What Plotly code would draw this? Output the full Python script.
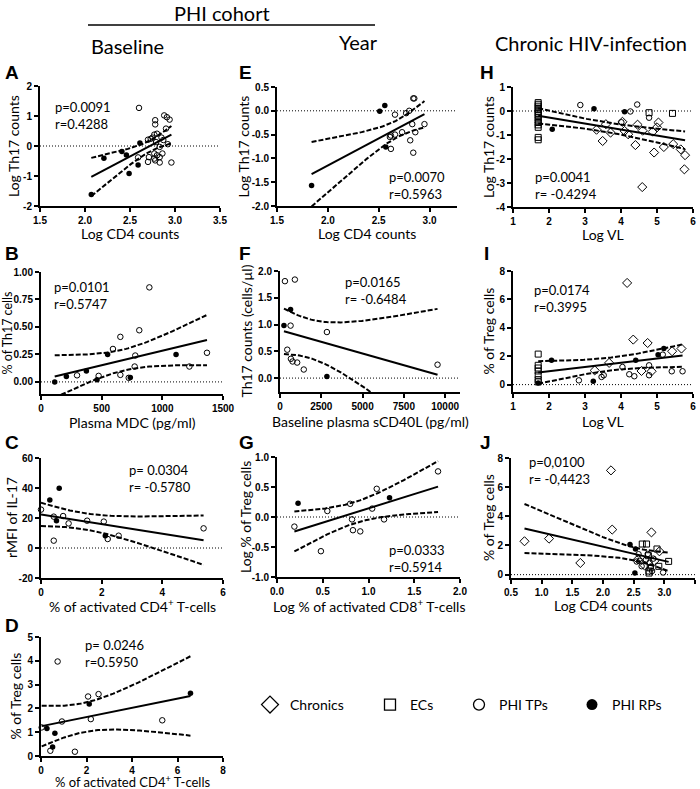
import numpy as np
import plotly.graph_objects as go

W, H = 700, 789

# ---------------- data ----------------
# Panel A: Log CD4 counts vs Log Th17 counts (baseline)
A_RP_X = [2.07, 2.21, 2.41, 2.46, 2.49, 2.59, 2.61]
A_RP_Y = [-1.62, -0.41, -0.18, -0.30, -0.92, -0.63, 0.10]
A_TP_X = [2.59, 2.60, 2.70, 2.70, 2.71, 2.73, 2.75, 2.77, 2.77, 2.77, 2.78, 2.78, 2.78, 2.79,
          2.80, 2.80, 2.83, 2.83, 2.83, 2.85, 2.86, 2.87, 2.88, 2.90, 2.91, 2.92, 2.94, 2.96]
A_TP_Y = [-0.38, 1.27, 0.21, -0.53, -0.37, 0.24, 0.28, 0.38, -0.25, -0.42, 0.86, 0.72, -0.48, 0.13,
          0.41, -0.31, -0.03, -0.37, -0.55, 0.28, -0.25, 0.20, 1.02, 0.58, 0.96, 0.06, 0.88, -0.55]

# Panel E: year
E_RP_X = [1.84, 2.51, 2.56, 2.57]
E_RP_Y = [-1.57, -0.01, 0.11, -0.76]
E_TP_X = [2.61, 2.62, 2.62, 2.66, 2.73, 2.77, 2.80, 2.81, 2.83, 2.84, 2.84, 2.85, 2.86, 2.95, 2.66]
E_TP_Y = [-0.55, -0.80, -0.52, -0.08, -0.45, -0.05, 0.00, -0.62, -0.28, -0.88, 0.26, 0.26, -0.45, -0.28, -0.50]

# Panel H: chronic, Log VL vs Log Th17
H_EC_X = [1.7, 1.7, 1.7, 1.7, 1.7, 1.7, 1.7, 1.7, 1.7, 1.7, 1.7, 1.7, 1.7, 1.7, 1.7, 4.78, 5.43]
H_EC_Y = [0.35, 0.28, 0.20, 0.12, 0.05, -0.03, -0.10, -0.18, -0.28, -0.38, -0.48, -0.58, -0.68,
          -1.10, -1.20, -0.07, -0.10]
H_RP_X = [2.09, 3.25, 4.10]
H_RP_Y = [-0.76, 0.09, -0.03]
H_TP_X = [2.87, 4.01, 4.26, 4.45, 4.78]
H_TP_Y = [0.25, -0.47, -0.02, 0.27, -0.28]
H_CH_X = [3.32, 3.58, 3.71, 3.49, 4.04, 4.10, 4.20, 4.40, 4.46, 4.60, 4.59, 4.88, 4.92, 5.00,
          5.04, 5.19, 5.45, 5.66, 5.78, 5.76]
H_CH_Y = [-0.78, -0.55, -0.90, -1.25, -0.45, -0.83, -0.97, -1.42, -0.57, -0.82, -3.17, -0.86,
          -1.73, -0.68, -0.48, -1.50, -1.38, -1.60, -1.84, -2.43]

# Panel B: plasma MDC vs % Th17
B_RP_X = [113, 209, 374, 462, 549, 736, 1113]
B_RP_Y = [0.00, 0.05, 0.10, 0.02, 0.25, 0.04, 0.25]
B_TP_X = [297, 475, 593, 654, 654, 723, 772, 777, 810, 893, 1223, 1368]
B_TP_Y = [0.06, 0.055, 0.30, 0.41, 0.064, 0.037, 0.14, 0.24, 0.47, 0.86, 0.14, 0.265]

# Panel F: sCD40L vs Th17 counts
F_RP_X = [240, 640, 2840]
F_RP_Y = [0.98, 1.28, 0.03]
F_TP_X = [300, 900, 640, 2840, 440, 660, 760, 1040, 1440, 9540]
F_TP_Y = [1.81, 1.84, 0.98, 0.86, 0.53, 0.36, 0.31, 0.29, 0.16, 0.25]

# Panel I: Log VL vs % Treg
I_EC_X = [1.7, 1.7, 1.7, 1.7, 1.7, 1.7, 1.7]
I_EC_Y = [2.15, 1.36, 1.17, 0.96, 0.66, 0.35, 0.19]
I_RP_X = [1.70, 2.07, 3.23, 4.41, 5.03, 5.19]
I_RP_Y = [0.12, 1.71, 0.23, 1.71, 2.11, 2.54]
I_TP_X = [2.83, 3.46, 3.52, 4.04, 4.23, 4.37, 4.78, 4.78, 5.16, 5.41, 5.71]
I_TP_Y = [0.30, 0.54, 0.66, 1.24, 0.73, 0.59, 0.66, 1.36, 2.11, 0.94, 0.94]
I_CH_X = [3.27, 3.67, 4.17, 4.34, 4.57, 4.74, 4.85, 5.42, 5.68]
I_CH_Y = [1.00, 1.53, 7.16, 3.17, 0.96, 2.93, 0.94, 2.35, 2.54]

# Panel C: % activated CD4 vs rMFI IL-17
C_RP_X = [0.29, 0.60, 0.51, 2.12]
C_RP_Y = [32.0, 39.8, 18.2, 8.2]
C_TP_X = [0.00, 0.42, 0.73, 0.91, 0.42, 1.52, 2.07, 2.20, 2.56, 5.36]
C_TP_Y = [25.6, 20.9, 21.3, 16.4, 4.9, 18.2, 17.6, 6.0, 8.2, 13.1]

# Panel G: Log % activated CD8 vs Log % Treg
G_RP_X = [0.23, 1.23]
G_RP_Y = [0.23, 0.32]
G_TP_X = [0.19, 0.55, 0.48, 0.80, 0.82, 0.83, 0.91, 1.04, 1.09, 1.17, 1.76]
G_TP_Y = [-0.16, 0.10, -0.57, 0.22, -0.04, -0.22, -0.24, 0.14, 0.47, -0.04, 0.76]

# Panel J: Log CD4 counts vs % Treg (chronic)
J_CH_X = [0.72, 1.12, 1.63, 2.13, 2.15, 2.79, 2.57, 2.84, 2.68, 2.92]
J_CH_Y = [2.29, 2.47, 0.80, 7.15, 3.09, 2.90, 1.05, 0.95, 0.62, 1.60]
J_RP_X = [2.44, 2.52, 2.53]
J_RP_Y = [2.06, 0.11, 1.76]
J_EC_X = [2.64, 2.71, 2.88, 2.74, 2.91, 3.07, 2.77, 2.75, 2.75]
J_EC_Y = [2.10, 2.10, 1.76, 1.30, 0.57, 0.91, 0.46, 0.11, 0.25]
J_TP_X = [2.58, 2.60, 2.63, 2.70, 2.73, 2.76, 2.78, 2.80, 2.98, 2.82, 2.55]
J_TP_Y = [1.40, 0.95, 0.58, 1.02, 1.42, 0.82, 0.55, 0.25, 0.15, 1.10, 0.90]

# Panel D: % activated CD4 vs % Treg
D_RP_X = [0.26, 0.61, 0.51, 2.12, 6.57]
D_RP_Y = [1.16, 0.96, 0.38, 2.19, 2.64]
D_TP_X = [0.03, 0.73, 0.92, 0.41, 1.49, 2.07, 2.53, 2.19, 5.33]
D_TP_Y = [1.20, 3.97, 1.45, 0.22, 0.18, 2.50, 2.60, 1.55, 1.50]

# ---------------- ticks / labels ----------------
A_XT = [1.5, 2.0, 2.5, 3.0, 3.5]; A_XL = ["1.5", "2.0", "2.5", "3.0", "3.5"]
A_YT = [-2, -1, 0, 1, 2]; A_YL = ["-2", "-1", "0", "1", "2"]
E_XT = [1.5, 2.0, 2.5, 3.0]; E_XL = ["1.5", "2.0", "2.5", "3.0"]
E_YT = [-2.0, -1.5, -1.0, -0.5, 0.0, 0.5]; E_YL = ["-2.0", "-1.5", "-1.0", "-0.5", "0.0", "0.5"]
H_XT = [1, 2, 3, 4, 5, 6]; H_XL = ["1", "2", "3", "4", "5", "6"]
H_YT = [-4, -3, -2, -1, 0, 1]; H_YL = ["-4", "-3", "-2", "-1", "0", "1"]
B_XT = [0, 500, 1000, 1500]; B_XL = ["0", "500", "1000", "1500"]
B_YT = [0, 0.25, 0.5, 0.75, 1.0]; B_YL = ["0.00", "0.25", "0.50", "0.75", "1.00"]
F_XT = [0, 2500, 5000, 7500, 10000]; F_XL = ["0", "2500", "5000", "7500", "10000"]
F_YT = [0, 0.5, 1.0, 1.5, 2.0]; F_YL = ["0.0", "0.5", "1.0", "1.5", "2.0"]
I_XT = [1, 2, 3, 4, 5, 6]; I_XL = ["1", "2", "3", "4", "5", "6"]
I_YT = [0, 2, 4, 6, 8]; I_YL = ["0", "2", "4", "6", "8"]
C_XT = [0, 2, 4, 6]; C_XL = ["0", "2", "4", "6"]
C_YT = [-20, 0, 20, 40, 60]; C_YL = ["-20", "0", "20", "40", "60"]
G_XT = [0, 0.5, 1.0, 1.5, 2.0]; G_XL = ["0.0", "0.5", "1.0", "1.5", "2.0"]
G_YT = [-1.0, -0.5, 0.0, 0.5, 1.0]; G_YL = ["-1.0", "-0.5", "0.0", "0.5", "1.0"]
J_XT = [0.5, 1.0, 1.5, 2.0, 2.5, 3.0, 3.5]; J_XL = ["0.5", "1.0", "1.5", "2.0", "2.5", "3.0", "3.5"]
J_YT = [0, 2, 4, 6, 8]; J_YL = ["0", "2", "4", "6", "8"]
D_XT = [0, 2, 4, 6, 8]; D_XL = ["0", "2", "4", "6", "8"]
D_YT = [0, 1, 2, 3, 4, 5]; D_YL = ["0", "1", "2", "3", "4", "5"]

# ---------------- texts ----------------
A_STATS = ["p=0.0091", "r=0.4288"]
E_STATS = ["p=0.0070", "r=0.5963"]
H_STATS = ["p=0.0041", "r= -0.4294"]
B_STATS = ["p=0.0101", "r=0.5747"]
F_STATS = ["p=0.0165", "r= -0.6484"]
I_STATS = ["p=0.0174", "r=0.3995"]
C_STATS = ["p= 0.0304", "r= -0.5780"]
G_STATS = ["p=0.0333", "r=0.5914"]
J_STATS = ["p=0,0100", "r= -0,4423"]
D_STATS = ["p= 0.0246", "r=0.5950"]

ACT4 = "% of activated CD4<sup>+</sup> T-cells"
ACT8 = "Log % of activated CD8<sup>+</sup> T-cells"
LEGEND_NAMES = ["Chronics", "ECs", "PHI TPs", "PHI RPs"]

# ---------------- styling ----------------
TICKFONT = dict(family="Liberation Sans", size=10, color="black", weight="bold")
TXT = "Lato"
STYLE = {
    "CH": dict(symbol="diamond-open", size=7, color="black", line=dict(width=1, color="black")),
    "EC": dict(symbol="square-open", size=6, color="black", line=dict(width=1, color="black")),
    "TP": dict(symbol="circle-open", size=5.5, color="black", line=dict(width=1, color="black")),
    "RP": dict(symbol="circle", size=5.5, color="black", line=dict(width=0)),
}


def tcrit(df):
    z = 1.959964
    return (z + (z**3 + z) / (4 * df) + (5 * z**5 + 16 * z**3 + 3 * z) / (96 * df**2)
            + (3 * z**7 + 19 * z**5 + 17 * z**3 - 15 * z) / (384 * df**3))


def fit_band(xs, ys, npts=80):
    x = np.asarray(xs, float)
    y = np.asarray(ys, float)
    n = len(x)
    xm, ym = x.mean(), y.mean()
    sxx = ((x - xm) ** 2).sum()
    b = ((x - xm) * (y - ym)).sum() / sxx
    a = ym - b * xm
    s = np.sqrt(((y - (a + b * x)) ** 2).sum() / (n - 2))
    gx = np.linspace(x.min(), x.max(), npts)
    gy = a + b * gx
    half = tcrit(n - 2) * s * np.sqrt(1.0 / n + (gx - xm) ** 2 / sxx)
    return gx, gy, gy - half, gy + half


PANELS = [
    dict(L="A", box=(40, 220, 86, 206), xr=[1.5, 3.5], yr=[-2, 2], xt=A_XT, xl=A_XL, yt=A_YT, yl=A_YL,
         g=[("RP", A_RP_X, A_RP_Y), ("TP", A_TP_X, A_TP_Y)], st=A_STATS, sp=(53, 108),
         lp=(3, 72), xtitle="Log CD4 counts", ytitle="Log Th17 counts", xty=233, ytx=13, zero=True,
         fs=14, yfs=14),
    dict(L="E", box=(277, 457, 87, 206), xr=[1.5, 3.27], yr=[-2, 0.5], xt=E_XT, xl=E_XL, yt=E_YT, yl=E_YL,
         g=[("RP", E_RP_X, E_RP_Y), ("TP", E_TP_X, E_TP_Y)], st=E_STATS, sp=(387, 178),
         lp=(237, 73), xtitle="Log CD4 counts", ytitle="Log Th17 counts", xty=234, ytx=243, zero=True,
         fs=14, yfs=14),
    dict(L="H", box=(513, 693, 87, 207), xr=[1, 6], yr=[-4, 1], xt=H_XT, xl=H_XL, yt=H_YT, yl=H_YL,
         g=[("EC", H_EC_X, H_EC_Y), ("CH", H_CH_X, H_CH_Y), ("TP", H_TP_X, H_TP_Y), ("RP", H_RP_X, H_RP_Y)],
         st=H_STATS, sp=(533, 178), lp=(478, 73), xtitle="Log VL", ytitle="Log Th17 counts",
         xty=235, ytx=488, zero=True, fs=14, yfs=14),
    dict(L="B", box=(41, 223, 272, 394), xr=[0, 1500], yr=[-0.11, 1.0], xt=B_XT, xl=B_XL, yt=B_YT, yl=B_YL,
         g=[("RP", B_RP_X, B_RP_Y), ("TP", B_TP_X, B_TP_Y)], st=B_STATS, sp=(52, 288),
         lp=(3, 253), xtitle="Plasma MDC (pg/ml)", ytitle="% of Th17 cells", xty=422, ytx=7.5, zero=True,
         fs=14, yfs=12.5),
    dict(L="F", box=(280, 460, 271, 392), xr=[0, 10900], yr=[-0.26, 2.0], xt=F_XT, xl=F_XL, yt=F_YT, yl=F_YL,
         g=[("RP", F_RP_X, F_RP_Y), ("TP", F_TP_X, F_TP_Y)], st=F_STATS, sp=(343, 283),
         lp=(237, 253), xtitle="Baseline plasma sCD40L (pg/ml)", ytitle="Th17 counts (cells/\u00b5l)",
         xty=421, ytx=246, zero=True, fs=14, yfs=14),
    dict(L="I", box=(513, 693, 271, 392), xr=[1, 6], yr=[-0.52, 8], xt=I_XT, xl=I_XL, yt=I_YT, yl=I_YL,
         g=[("EC", I_EC_X, I_EC_Y), ("CH", I_CH_X, I_CH_Y), ("TP", I_TP_X, I_TP_Y), ("RP", I_RP_X, I_RP_Y)],
         st=I_STATS, sp=(532, 291), lp=(482, 253), xtitle="Log VL", ytitle="% of Treg cells",
         xty=421, ytx=488, zero=True, fs=14, yfs=14),
    dict(L="C", box=(41, 223, 458, 578), xr=[0, 6], yr=[-20, 60], xt=C_XT, xl=C_XL, yt=C_YT, yl=C_YL,
         g=[("RP", C_RP_X, C_RP_Y), ("TP", C_TP_X, C_TP_Y)], st=C_STATS, sp=(127, 471),
         lp=(3, 442), xtitle=ACT4, ytitle="rMFI of IL-17", xty=605, ytx=11, zero=True, fs=14, yfs=14),
    dict(L="G", box=(277, 460, 457, 577), xr=[0, 2], yr=[-1, 1], xt=G_XT, xl=G_XL, yt=G_YT, yl=G_YL,
         g=[("RP", G_RP_X, G_RP_Y), ("TP", G_TP_X, G_TP_Y)], st=G_STATS, sp=(387, 551),
         lp=(237, 442), xtitle=ACT8, ytitle="Log % of Treg cells", xty=605, ytx=245, zero=True,
         fs=14, yfs=14),
    dict(L="J", box=(511, 695, 458, 578), xr=[0.5, 3.5], yr=[-0.23, 8], xt=J_XT, xl=J_XL, yt=J_YT, yl=J_YL,
         g=[("EC", J_EC_X, J_EC_Y), ("CH", J_CH_X, J_CH_Y), ("TP", J_TP_X, J_TP_Y), ("RP", J_RP_X, J_RP_Y)],
         st=J_STATS, sp=(527, 463), lp=(478, 442), xtitle="Log CD4 counts", ytitle="% of Treg cells",
         xty=605, ytx=488, zero=True, fs=14, yfs=14),
    dict(L="D", box=(41, 223, 637, 756), xr=[0, 8], yr=[0, 5], xt=D_XT, xl=D_XL, yt=D_YT, yl=D_YL,
         g=[("RP", D_RP_X, D_RP_Y), ("TP", D_TP_X, D_TP_Y)], st=D_STATS, sp=(83, 646),
         lp=(3, 625), xtitle=ACT4, ytitle="% of Treg cells", xty=781, ytx=15, zero=False, fs=13, yfs=14),
]

fig = go.Figure()
annotations = []
shapes = []
layout_axes = {}


def px(xp):
    return xp / W


def py(yp):
    return 1 - yp / H


for i, P in enumerate(PANELS, start=1):
    xa = "x" if i == 1 else f"x{i}"
    ya = "y" if i == 1 else f"y{i}"
    l, r, t, b = P["box"]
    common = dict(showline=True, linecolor="black", linewidth=2, ticks="outside", ticklen=4,
                  tickwidth=2, tickcolor="black", showgrid=False, zeroline=False,
                  tickfont=TICKFONT, fixedrange=True, tickmode="array", automargin=False)
    layout_axes[f"xaxis{i}"] = dict(common, domain=[px(l), px(r)], range=P["xr"], anchor=ya,
                                    tickvals=P["xt"], ticktext=P["xl"])
    layout_axes[f"yaxis{i}"] = dict(common, domain=[py(b), py(t)], range=P["yr"], anchor=xa,
                                    tickvals=P["yt"], ticktext=P["yl"])

    if P["zero"]:
        shapes.append(dict(type="line", xref=f"{xa} domain", yref=ya, x0=0, x1=1, y0=0, y1=0,
                           line=dict(color="black", width=1, dash="1px,2px"), layer="below"))

    allx = [v for _, gx, _ in P["g"] for v in gx]
    ally = [v for _, _, gy in P["g"] for v in gy]
    fx, fy, lo, hi = fit_band(allx, ally)
    for yy, dash in ((lo, "5px,2px"), (hi, "5px,2px"), (fy, "solid")):
        fig.add_trace(go.Scatter(x=fx, y=yy, mode="lines", xaxis=xa, yaxis=ya, showlegend=False,
                                 line=dict(color="black", width=2, dash=dash), hoverinfo="skip"))
    for kind, gx, gy in P["g"]:
        fig.add_trace(go.Scatter(x=gx, y=gy, mode="markers", xaxis=xa, yaxis=ya, showlegend=False,
                                 marker=STYLE[kind], cliponaxis=False))

    sx, sy = P["sp"]
    annotations.append(dict(text=P["st"][0] + "<br>" + P["st"][1], x=px(sx), y=py(sy + 7.5),
                            xref="paper", yref="paper", xanchor="left", yanchor="middle",
                            align="left", showarrow=False,
                            font=dict(family=TXT, size=13, color="black")))
    lx, ly = P["lp"]
    annotations.append(dict(text=P["L"], x=px(lx), y=py(ly), xref="paper", yref="paper",
                            xanchor="left", yanchor="middle", showarrow=False,
                            font=dict(family="Liberation Sans", size=19, color="black", weight="bold")))
    annotations.append(dict(text=P["xtitle"], x=px((l + r) / 2), y=py(P["xty"]), xref="paper",
                            yref="paper", xanchor="center", yanchor="middle", showarrow=False,
                            font=dict(family=TXT, size=P["fs"], color="black")))
    annotations.append(dict(text=P["ytitle"], x=px(P["ytx"]), y=py((t + b) / 2), xref="paper",
                            yref="paper", xanchor="center", yanchor="middle", showarrow=False,
                            textangle=-90, font=dict(family=TXT, size=P["yfs"], color="black")))

# headers
for text, cx, cy in (("PHI cohort", 222, 13), ("Baseline", 127, 46), ("Year", 358, 42),
                     ("Chronic HIV-infection", 591, 43)):
    annotations.append(dict(text=text, x=px(cx), y=py(cy), xref="paper", yref="paper",
                            xanchor="center", yanchor="middle", showarrow=False,
                            font=dict(family=TXT, size=20, color="black")))
shapes.append(dict(type="line", xref="paper", yref="paper", x0=px(88), x1=px(375), y0=py(25), y1=py(25),
                   line=dict(color="black", width=1.5)))

# legend (four separate legends placed like the reference)
LEG_STYLE = {
    "Chronics": dict(symbol="diamond-open", size=13, color="black", line=dict(width=1.3, color="black")),
    "ECs": dict(symbol="square-open", size=11, color="black", line=dict(width=1.3, color="black")),
    "PHI TPs": dict(symbol="circle-open", size=11, color="black", line=dict(width=1.3, color="black")),
    "PHI RPs": dict(symbol="circle", size=11, color="black"),
}
leg_keys = ["legend", "legend2", "legend3", "legend4"]
leg_x = [250, 370, 459, 572]
legend_layout = {}
for name, key, lxp in zip(LEGEND_NAMES, leg_keys, leg_x):
    fig.add_trace(go.Scatter(x=[None], y=[None], mode="markers", name=name, legend=key,
                             marker=LEG_STYLE[name], showlegend=True))
    legend_layout[key] = dict(x=px(lxp), y=py(705), xanchor="left", yanchor="middle",
                              bgcolor="rgba(0,0,0,0)", borderwidth=0, itemwidth=30,
                              font=dict(family=TXT, size=14, color="black"))

fig.update_layout(width=W, height=H, margin=dict(l=0, r=0, t=0, b=0, pad=0, autoexpand=False),
                  paper_bgcolor="white", plot_bgcolor="white",
                  annotations=annotations, shapes=shapes, **layout_axes, **legend_layout)
fig.write_html("out.html", config={"displayModeBar": False},
               post_script="document.body.style.margin='0px';")
